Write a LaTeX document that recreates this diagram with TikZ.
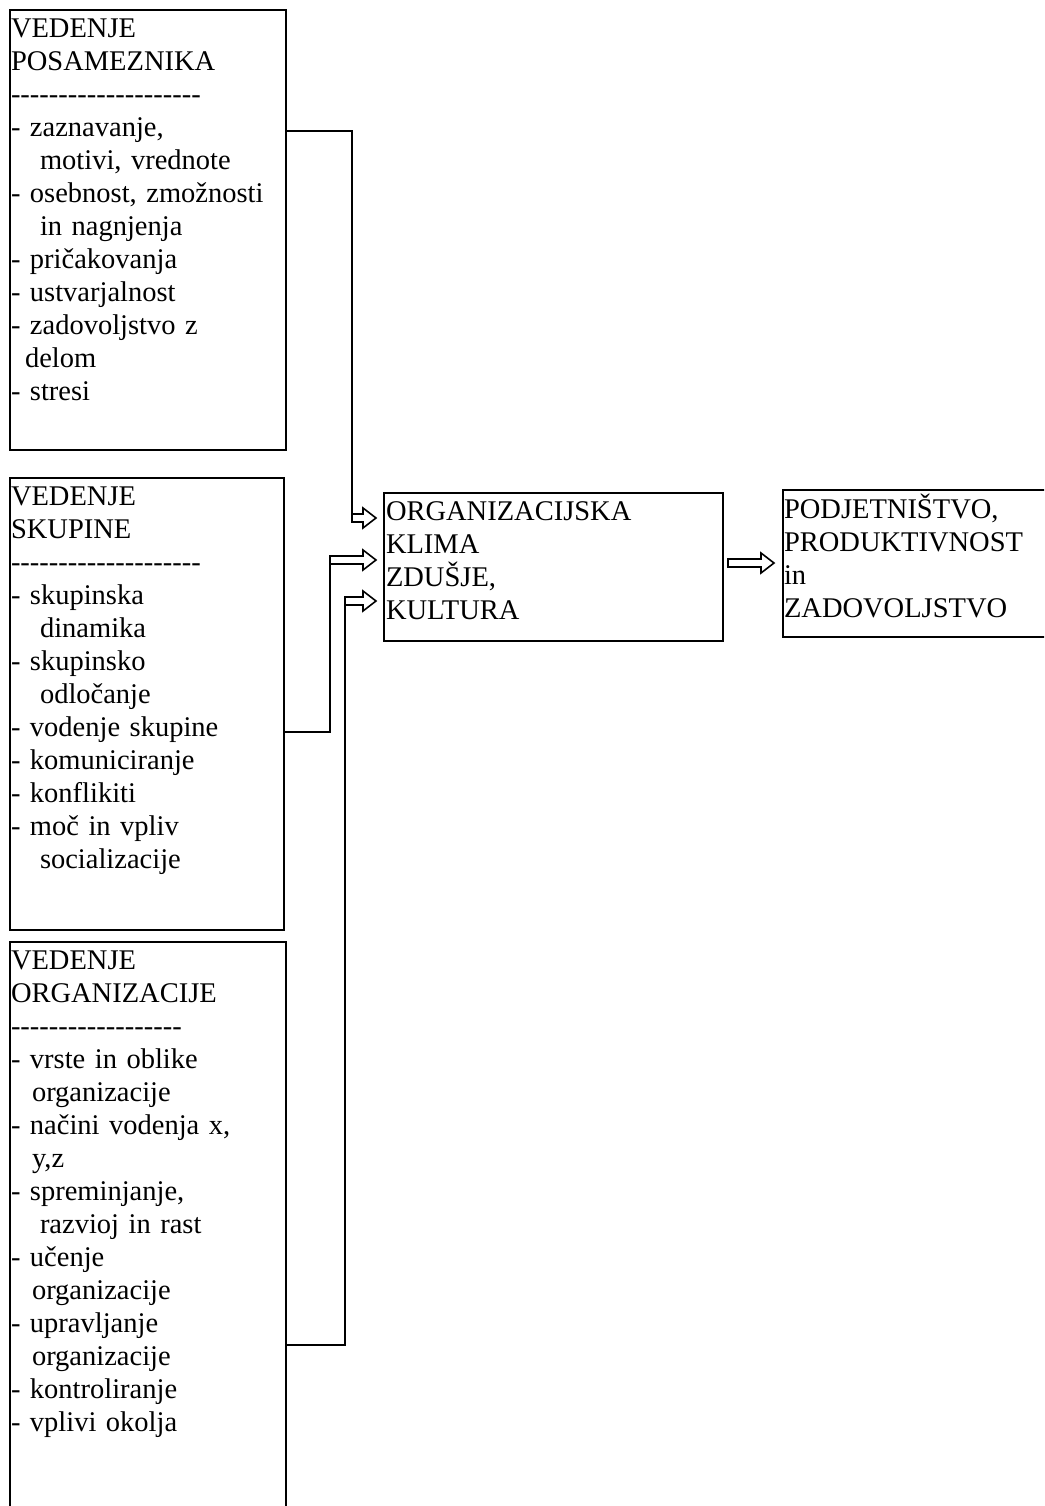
\documentclass[tikz,border=0pt]{standalone}
\usepackage{fontspec}
\setmainfont{Liberation Serif}
\newcommand\hy{\mbox{-}}
\newcommand\hyten{\hy\hy\hy\hy\hy\hy\hy\hy\hy\hy}
\newcommand\blockarrow[3]{%
  \draw[arr] (#1,#2-4) -- (#3-13,#2-4) -- (#3-13,#2-10) -- (#3,#2) -- (#3-13,#2+10) -- (#3-13,#2+4) -- (#1,#2+4) -- cycle;}
\begin{document}
\begin{tikzpicture}[x=1pt,y=-1pt,
  box/.style={draw, line width=1.3pt, anchor=north west, outer sep=0pt, inner sep=0pt},
  txt/.style={anchor=north west, inner sep=0pt, outer sep=0pt, text width=330pt, align=left,
              font=\fontsize{28.5}{33}\selectfont},
  conn/.style={draw, line width=1.8pt},
  arr/.style={draw, line width=1.6pt, line join=miter, fill=white}]
\useasboundingbox (0,0) rectangle (1044,1506);
\clip (0,0) rectangle (1044,1506);

% boxes
\node[box, minimum width=276pt, minimum height=440pt] (b1) at (10,10) {};
\node[box, minimum width=274pt, minimum height=452pt] (b2) at (10,478) {};
\node[box, minimum width=276pt, minimum height=620pt] (b3) at (10,942) {};
\node[box, minimum width=339pt, minimum height=148pt] (c) at (384,493) {};
\node[box, minimum width=300pt, minimum height=147pt] (r) at (783,490) {};

% texts
\node[txt] (t1) at (11,14) {\strut VEDENJE\\
POSAMEZNIKA\\
\hyten\hyten\\
- zaznavanje,\\
\hspace*{29pt}motivi, vrednote\\
- osebnost, zmožnosti\\
\hspace*{29pt}in nagnjenja\\
- pričakovanja\\
- ustvarjalnost\\
- zadovoljstvo z\\
\hspace*{14pt}delom\\
- stresi};

\node[txt] (t2) at (11,482) {\strut VEDENJE\\
SKUPINE\\
\hyten\hyten\\
- skupinska\\
\hspace*{29pt}dinamika\\
- skupinsko\\
\hspace*{29pt}odločanje\\
- vodenje skupine\\
- komuniciranje\\
- konflikiti\\
- moč in vpliv\\
\hspace*{29pt}socializacije};

\node[txt] (t3) at (11,946) {\strut VEDENJE\\
ORGANIZACIJE\\
\hyten\hy\hy\hy\hy\hy\hy\hy\hy\\
- vrste in oblike\\
\hspace*{21pt}organizacije\\
- načini vodenja x,\\
\hspace*{21pt}y,z\\
- spreminjanje,\\
\hspace*{29pt}razvioj in rast\\
- učenje\\
\hspace*{21pt}organizacije\\
- upravljanje\\
\hspace*{21pt}organizacije\\
- kontroliranje\\
- vplivi okolja};

\node[txt] (tc) at (386,497) {\strut ORGANIZACIJSKA\\
KLIMA\\
ZDUŠJE,\\
KULTURA};

\node[txt] (tr) at (784,494) {\strut PODJETNIŠTVO,\\
PRODUKTIVNOST\\
in\\
ZADOVOLJSTVO};

% connectors
\coordinate (k1) at (352,131);
\coordinate (e1) at (352,522);
\draw[conn] (b1.east |- k1) -- (k1) -- (e1);
\blockarrow{352}{518}{376}

\coordinate (k2) at (330,732);
\coordinate (e2) at (330,556);
\draw[conn] (b2.east |- k2) -- (k2) -- (e2);
\blockarrow{330}{560}{376}

\coordinate (k3) at (345,1345);
\coordinate (e3) at (345,597);
\draw[conn] (b3.east |- k3) -- (k3) -- (e3);
\blockarrow{345}{601}{376}

\blockarrow{728}{563}{774}
\end{tikzpicture}
\end{document}
